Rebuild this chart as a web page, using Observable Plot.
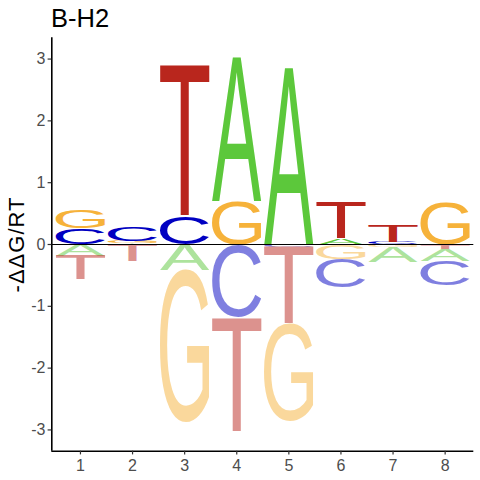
<!DOCTYPE html>
<html>
<head>
<meta charset="utf-8">
<script src="https://cdn.jsdelivr.net/npm/d3@7"></script>
<script src="https://cdn.jsdelivr.net/npm/@observablehq/plot@0.6"></script>
<style>
  html, body { margin: 0; padding: 0; background: white; }
</style>
</head>
<body>
<div id="chart"></div>
<script>
// ---- data ----
const titleText = "B-H2";
const yLabel = "-\u0394\u0394G/RT";
const positions = [1, 2, 3, 4, 5, 6, 7, 8];
const bases = ["A", "C", "G", "T"];
const energyA = [-0.18, 0.02, -0.41, 2.33, 2.86, 0.10, -0.25, -0.19];
const energyC = [0.26, 0.23, 0.44, -1.18, -0.04, -0.46, 0.03, -0.40];
const energyG = [0.30, 0.03, -2.47, 0.71, -1.57, -0.23, -0.04, 0.68];
const energyT = [-0.39, -0.27, 2.45, -1.86, -1.25, 0.59, 0.27, -0.07];
const baseColors = ["#5cc83b", "#0000c2", "#f6b23a", "#b9261d"];
const yTicks = [-3, -2, -1, 0, 1, 2, 3];
const xTicks = [1, 2, 3, 4, 5, 6, 7, 8];

// ---- stacked letter table ----
const energies = [energyA, energyC, energyG, energyT];
const colorOf = Object.fromEntries(bases.map((b, k) => [b, baseColors[k]]));
const rows = [];
positions.forEach((p, i) => {
  const vals = bases.map((b, k) => ({base: b, value: energies[k][i]}));
  let up = 0, down = 0;
  vals.filter(d => d.value > 0).sort((a, b) => a.value - b.value).forEach(d => {
    rows.push({pos: p, base: d.base, y1: up, y2: up + d.value, neg: false});
    up += d.value;
  });
  vals.filter(d => d.value < 0).sort((a, b) => b.value - a.value).forEach(d => {
    rows.push({pos: p, base: d.base, y1: down + d.value, y2: down, neg: true});
    down += d.value;
  });
});

const halfWidth = 0.475;
const yMax = d3.max(rows, d => Math.max(Math.abs(d.y1), Math.abs(d.y2)));
const yDomain = [-yMax * 1.1, yMax * 1.1];
const xDomain = [0.45, 8.55];
const FONT = "Liberation Sans";

const svg = Plot.plot({
  width: 480,
  height: 480,
  marginLeft: 51.3,
  marginRight: 6.7,
  marginTop: 37.3,
  marginBottom: 29.3,
  style: {fontFamily: FONT, background: "white", overflow: "visible"},
  x: {domain: xDomain, axis: null, label: null},
  y: {domain: yDomain, axis: null, label: null},
  marks: [
    Plot.text(rows, {
      x: "pos",
      y: d => (d.y1 + d.y2) / 2,
      text: "base",
      fill: d => colorOf[d.base],
      fillOpacity: d => d.neg ? 0.5 : 1,
      fontSize: 100,
      fontFamily: FONT
    }),
    Plot.ruleY([0], {stroke: "black", strokeWidth: 1.1}),
    Plot.ruleX([xDomain[0]], {stroke: "black", strokeWidth: 1.6}),
    Plot.ruleY([yDomain[0]], {stroke: "black", strokeWidth: 1.6}),
    Plot.axisY(yTicks, {
      tickSize: 3.7, tickPadding: 2.6, stroke: "#333333", fill: "#4d4d4d",
      strokeWidth: 1.2, fontSize: 16, tickFormat: d => String(d), label: null
    }),
    Plot.axisX(xTicks, {
      tickSize: 3.7, tickPadding: 4.5, stroke: "#333333", fill: "#4d4d4d",
      strokeWidth: 1.2, fontSize: 16, tickFormat: d => String(d), label: null
    }),
    Plot.text([titleText], {
      frameAnchor: "top-left", text: d => d, textAnchor: "start",
      lineAnchor: "top", dx: -0.8, dy: -29, fontSize: 25.5, fill: "black"
    }),
    Plot.text([yLabel], {
      x: () => xDomain[0] - 0.66, y: () => 0, text: d => d, rotate: -90,
      fontSize: 22, fill: "black"
    })
  ]
});

document.getElementById("chart").appendChild(svg);

// stretch each letter glyph to fill its stacked box, via the plot's own scales
const sX = svg.scale("x"), sY = svg.scale("y");
const ctx = document.createElement("canvas").getContext("2d");
ctx.font = `100px "${FONT}"`;
const textGroups = svg.querySelectorAll('g[aria-label="text"]');
const letterGroup = textGroups[0];
[...letterGroup.querySelectorAll("text")].forEach((el, j) => {
  const d = rows[j];
  const m = ctx.measureText(d.base);
  const abl = m.actualBoundingBoxLeft, abr = m.actualBoundingBoxRight;
  const asc = m.actualBoundingBoxAscent, desc = m.actualBoundingBoxDescent;
  const x0 = sX.apply(d.pos - halfWidth), x1 = sX.apply(d.pos + halfWidth);
  const yTop = sY.apply(d.y2), yBot = sY.apply(d.y1);
  const sx = (x1 - x0) / (abl + abr);
  const sy = (yBot - yTop) / (asc + desc);
  el.removeAttribute("x");
  el.removeAttribute("y");
  el.setAttribute("dy", "0");
  el.setAttribute("text-anchor", "start");
  el.setAttribute("transform", `translate(${x0},${yTop}) scale(${sx},${sy}) translate(${abl},${asc})`);
});
const yl = textGroups[2] && textGroups[2].querySelector("text");
if (yl) yl.style.letterSpacing = "1px";
</script>
</body>
</html>
